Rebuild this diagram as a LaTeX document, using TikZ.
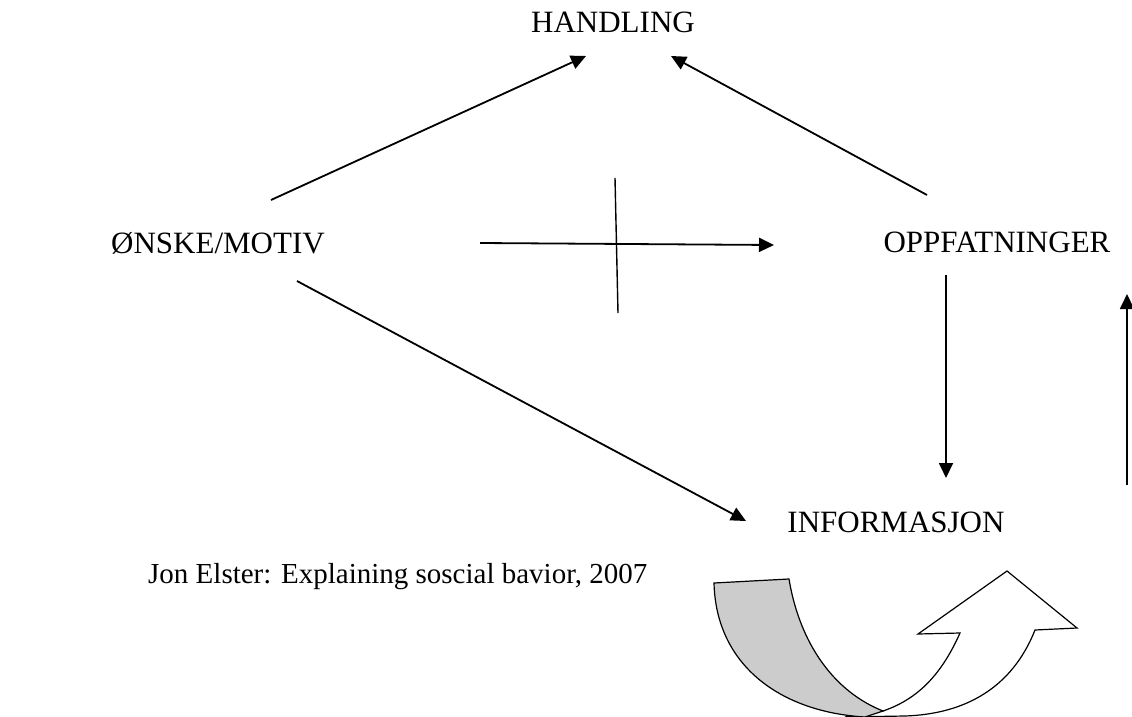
\documentclass[tikz,border=0pt]{standalone}
\usepackage{fontspec}
\setmainfont{Liberation Serif}
\usetikzlibrary{arrows.meta}
\begin{document}
\begin{tikzpicture}[x=1pt,y=-1pt,
  lbl/.style={font=\fontsize{31}{36}\selectfont, inner sep=0pt, anchor=base},
  srcstyle/.style={font=\fontsize{29}{34}\selectfont, inner sep=0pt, anchor=base west},
  conn/.style={line width=1.8pt, -{Triangle[length=15pt,width=14pt]}},
  bar/.style={line width=1.4pt},
  ribbon/.style={line width=1.2pt, line join=miter}]
\useasboundingbox (0,0) rectangle (1132,717);
\node[lbl] (h) at (613,33) {HANDLING};
\node[lbl] (o) at (218,253) {ØNSKE/MOTIV};
\node[lbl] (p) at (997,252) {OPPFATNINGER};
\node[lbl] (i) at (896,532) {INFORMASJON};
\node[srcstyle] (src) at (148,583) {Jon Elster: Explaining soscial bavior, 2007};
% connector end points
\coordinate (oh1) at (271,200); \coordinate (oh2) at (586,56);
\coordinate (ph1) at (927,195); \coordinate (ph2) at (671,56);
\coordinate (op1) at (480,243); \coordinate (op2) at (774,245);
\coordinate (x1) at (615,178); \coordinate (x2) at (618,313);
\coordinate (oi1) at (297,281); \coordinate (oi2) at (746,521);
\coordinate (pi1) at (946,275); \coordinate (pi2) at (946,478);
\coordinate (ip1) at (1127,485); \coordinate (ip2) at (1127,294);
\draw[conn] (oh1) -- (oh2);
\draw[conn] (ph1) -- (ph2);
\draw[conn] (op1) -- (op2);
\draw[bar] (x1) -- (x2);
\draw[conn] (oi1) -- (oi2);
\draw[conn] (pi1) -- (pi2);
\draw[conn] (ip1) -- (ip2);
% curved arrow
\draw[ribbon, fill=white] (845,717) -- (905,716) .. controls (965,714) and (1012,688) .. (1035,630)
  -- (1077,628) -- (1007,571) -- (918,634) -- (960,633)
  .. controls (940,678) and (915,700) .. (883,711) -- cycle;
\draw[ribbon, fill=black!20] (714,583) -- (789,579)
  .. controls (800,645) and (835,692) .. (883,711)
  -- (865,717) .. controls (780,712) and (716,665) .. (714,583) -- cycle;
\end{tikzpicture}
\end{document}
